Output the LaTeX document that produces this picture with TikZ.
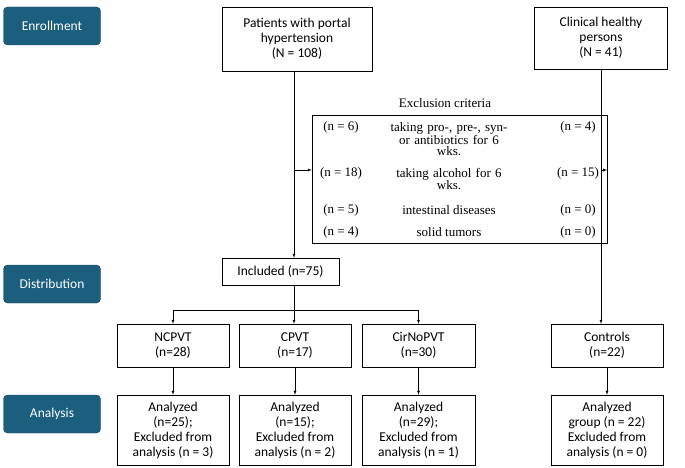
\documentclass[tikz,border=0pt]{standalone}
\usepackage{fontspec}
\setmainfont{Carlito}
\newfontfamily\exfont{Liberation Serif}
\usetikzlibrary{positioning}
\definecolor{stage}{HTML}{1B5E7E}
\begin{document}
\begin{tikzpicture}[x=1pt, y=-1pt, >=latex,
  stage/.style={draw=stage!80!black, fill=stage, rounded corners=4pt, text=white,
    minimum width=97pt, minimum height=38pt, font=\fontsize{13.5}{15}\selectfont},
  box/.style={draw, align=center, inner sep=2pt, font=\fontsize{13.5}{15}\selectfont},
  ex/.style={font=\exfont\fontsize{13}{11.5}\selectfont, align=center}]
\useasboundingbox (0,0) rectangle (685,468);

\node[stage] (enr) at (52,26) {Enrollment};
\node[stage] (dis) at (52,284) {Distribution};
\node[stage] (ana) at (52,414) {Analysis};

\node[box, minimum width=150pt, minimum height=64pt] (pat) at (297,39)
  {Patients with portal\\hypertension\\(N = 108)};
\node[box, minimum width=133pt, minimum height=62pt] (hea) at (601,38)
  {Clinical healthy\\persons\\(N = 41)};

\node[draw, minimum width=295pt, minimum height=128pt] (exc) at (459.5,179) {};
\node[ex] (ext) at (445,103) {Exclusion criteria};
\node[ex] (a1) at (341,127) {(n = 6)};
\node[ex, text width=130pt] (b1) at (449,139) {taking pro-, pre-, syn-\\or antibiotics for 6\\wks.};
\node[ex] (c1) at (578,127) {(n = 4)};
\node[ex] (a2) at (341,173) {(n = 18)};
\node[ex, text width=130pt] (b2) at (449,179) {taking alcohol for 6\\wks.};
\node[ex] (c2) at (578,173) {(n = 15)};
\node[ex] (a3) at (341,210) {(n = 5)};
\node[ex] (b3) at (449,210) {intestinal diseases};
\node[ex] (c3) at (578,210) {(n = 0)};
\node[ex] (a4) at (341,232) {(n = 4)};
\node[ex] (b4) at (449,232) {solid tumors};
\node[ex] (c4) at (578,232) {(n = 0)};

\node[box, minimum width=117pt, minimum height=27pt] (inc) at (280.5,271.5) {Included (n=75)};

\node[box, minimum width=112pt, minimum height=43pt] (g1) at (173,345.5) {NCPVT\\(n=28)};
\node[box, minimum width=112pt, minimum height=43pt] (g2) at (295,345.5) {CPVT\\(n=17)};
\node[box, minimum width=113pt, minimum height=43pt] (g3) at (418.5,345.5) {CirNoPVT\\(n=30)};
\node[box, minimum width=112pt, minimum height=43pt] (g4) at (607,345.5) {Controls\\(n=22)};

\node[box, minimum width=112pt, minimum height=70pt] (r1) at (173,430) {Analyzed\\(n=25);\\Excluded from\\analysis (n = 3)};
\node[box, minimum width=112pt, minimum height=70pt] (r2) at (295,430) {Analyzed\\(n=15);\\Excluded from\\analysis (n = 2)};
\node[box, minimum width=113pt, minimum height=70pt] (r3) at (418.5,430) {Analyzed\\(n=29);\\Excluded from\\analysis (n = 1)};
\node[box, minimum width=112pt, minimum height=70pt] (r4) at (607,430) {Analyzed\\group (n = 22)\\Excluded from\\analysis (n = 0)};

\coordinate (jp) at (294,170);
\coordinate (jh) at (601,170);
\coordinate (sp) at (294,310);
\draw[->] (pat.south -| jp) -- (inc.north -| jp);
\draw[->] (jp) -- (exc.west |- jp);
\draw[->] (hea.south) -- (g4.north -| hea.south);
\draw[->] (jh) -- (exc.east |- jh);
\draw (inc.south -| sp) -- (sp);
\draw[->] (sp -| g1) -- (g1.north);
\draw[->] (sp) -- (g2.north -| sp);
\draw[->] (sp -| g3) -- (g3.north);
\draw (sp -| g1) -- (sp -| g3);
\foreach \i in {1,2,3}
  \draw[->] (g\i.south) -- (r\i.north);
\draw[->] (g4.south) -- (r4.north);
\end{tikzpicture}
\end{document}
